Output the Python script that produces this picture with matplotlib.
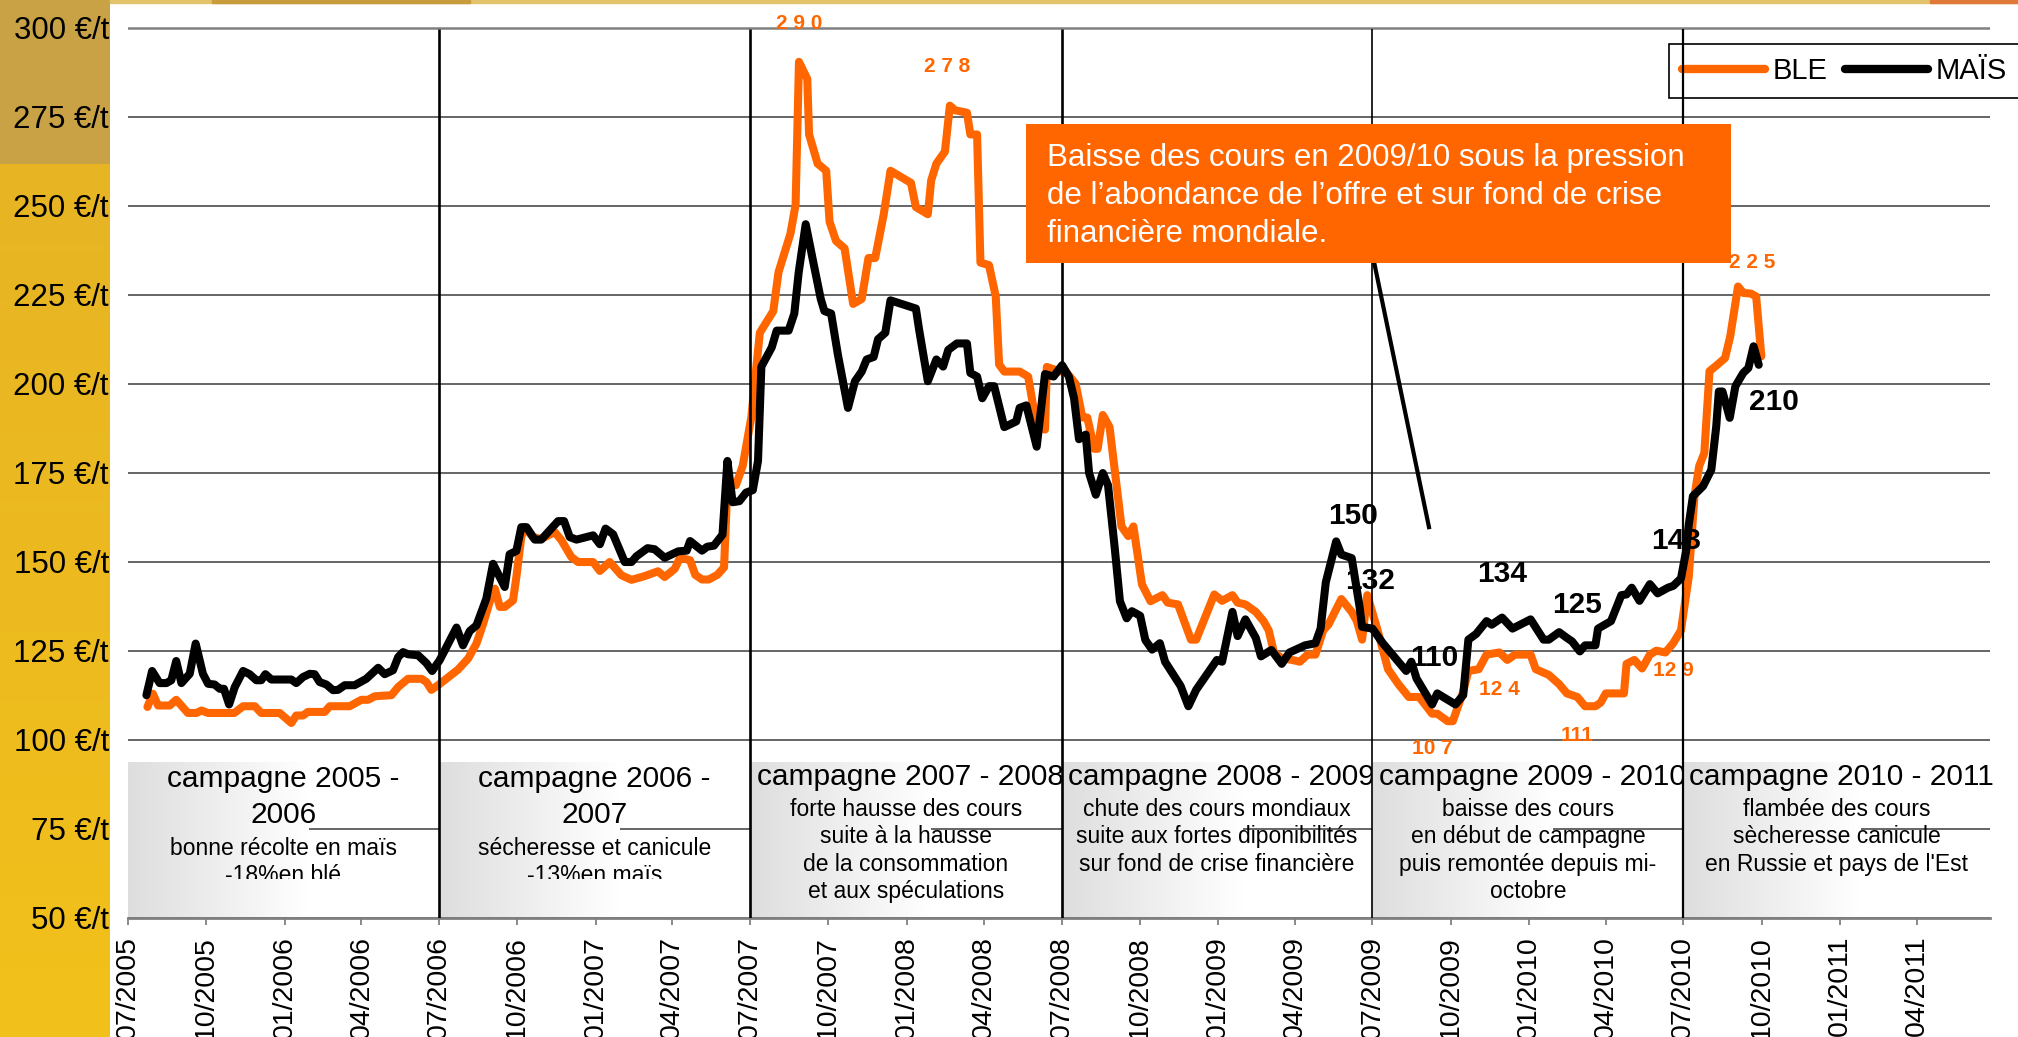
"""
Cours du blé et du maïs 2005-2010 (Matplotlib).
"""

import matplotlib.dates as mdates
import matplotlib.pyplot as plt
import numpy as np
import pandas as pd
from matplotlib.patches import Rectangle
from matplotlib.transforms import Bbox, TransformedBbox

plt.rcParams["font.family"] = ["Liberation Sans", "DejaVu Sans"]

ORANGE = "#FF6600"
W, H = 2018, 1037  # taille de l'image en pixels

# --- Données (x en mois depuis le 01/07/2005, y en €/t) ------------------

ble_mois = [
    0.75, 0.96, 1.16, 1.61, 1.86, 2.31, 2.64, 2.83, 3.09, 4.10, 4.44, 4.89,
    5.14, 5.85, 6.30, 6.49, 6.75, 6.94, 7.59, 7.78, 8.55, 9.00, 9.26, 9.52,
    10.16, 10.42, 10.80, 11.32, 11.51, 11.70, 11.96, 12.73, 13.12, 13.44,
    13.70, 13.95, 14.15, 14.34, 14.53, 14.85, 14.98, 15.17, 15.30, 15.62,
    15.94, 16.46, 16.72, 17.10, 17.36, 17.94, 18.20, 18.58, 19.03, 19.42,
    19.91, 20.44, 20.70, 21.09, 21.29, 21.68, 21.88, 22.14, 22.40, 22.73,
    22.99, 23.12, 23.45, 23.71, 24.04, 24.37, 24.89, 25.09, 25.55, 25.75,
    25.88, 26.20, 26.27, 26.60, 26.93, 27.06, 27.31, 27.64, 27.97, 28.30,
    28.56, 28.82, 29.15, 29.41, 30.20, 30.39, 30.85, 30.98, 31.18, 31.51,
    31.70, 31.90, 32.36, 32.49, 32.75, 32.88, 33.21, 33.47, 33.60, 33.80,
    34.39, 34.72, 35.05, 35.37, 35.44, 35.96, 36.09, 36.55, 36.81, 37.00,
    37.27, 37.40, 37.60, 37.86, 38.32, 38.58, 38.78, 39.11, 39.44, 39.90,
    40.10, 40.50, 41.00, 41.20, 41.90, 42.20, 42.60, 42.80, 43.10, 43.50,
    43.80, 44.00, 44.20, 44.50, 44.90, 45.20, 45.50, 45.80, 46.10, 46.30,
    46.80, 47.20, 47.40, 47.60, 47.80, 48.20, 48.60, 49.00, 49.40, 49.80,
    50.30, 50.50, 50.90, 51.10, 51.50, 51.70, 52.10, 52.40, 52.90, 53.20,
    53.50, 54.10, 54.30, 54.80, 55.20, 55.50, 55.90, 56.20, 56.60, 56.80,
    57.00, 57.70, 57.80, 58.10, 58.40, 58.70, 58.95, 59.30, 59.60, 59.90,
    60.20, 60.42, 60.60, 60.80, 61.00, 61.30, 61.60, 61.80, 62.10, 62.30,
    62.60, 62.80, 62.90, 63.00,
]
ble_prix = [
    109.2, 112.9, 109.6, 109.6, 111.2, 107.5, 107.5, 108.2, 107.5, 107.5, 109.4, 109.4,
    107.5, 107.5, 104.7, 106.8, 106.8, 107.8, 107.8, 109.4, 109.4, 111.2, 111.2, 112.2,
    112.5, 114.8, 117.1, 117.1, 116.2, 114.0, 115.3, 119.7, 122.8, 127.0,
    132.6, 138.7, 142.4, 137.3, 137.3, 139.1, 145.7, 156.9, 159.7, 156.9,
    156.4, 158.3, 156.0, 151.3, 149.9, 149.9, 147.4, 149.9, 146.2, 144.9,
    145.9, 147.3, 145.7, 148.0, 151.1, 150.4, 146.3, 145.0, 145.0, 146.3,
    148.4, 171.5, 171.5, 176.9, 190.5, 214.3, 220.4, 231.3, 242.1, 250.3,
    290.4, 285.6, 270.0, 261.8, 259.8, 245.5, 240.1, 238.0, 222.4, 223.8,
    235.3, 235.3, 247.6, 259.8, 256.4, 249.6, 247.6, 257.1, 261.8, 265.2,
    278.1, 276.8, 276.1, 270.0, 270.0, 234.0, 233.3, 224.5, 205.4, 203.4,
    203.4, 202.0, 187.8, 187.1, 204.7, 203.4, 204.1, 200.0, 190.5, 190.5,
    181.7, 181.7, 191.2, 187.8, 159.9, 157.2, 159.9, 143.6, 138.9, 140.6,
    138.5, 138.0, 128.1, 128.1, 140.8, 139.0, 140.6, 138.5, 138.0, 135.9,
    133.3, 130.7, 124.5, 122.9, 122.4, 121.9, 123.9, 123.9, 130.7, 132.3,
    139.5, 135.9, 133.3, 128.1, 140.6, 130.7, 119.8, 115.6, 112.0, 112.0,
    107.3, 107.3, 105.2, 105.2, 113.5, 119.3, 119.8, 123.9, 124.5, 122.4,
    123.9, 123.9, 119.8, 118.2, 115.6, 113.0, 112.0, 109.4, 109.4, 110.4,
    113.0, 113.0, 121.3, 122.4, 120.0, 123.9, 125.0, 124.5, 127.1, 130.7,
    145.8, 168.4, 176.8, 180.5, 203.5, 205.3, 207.2, 213.3, 227.3, 225.5,
    225.3, 224.5, 216.1, 207.7,
]

mais_mois = [
    0.71, 0.93, 1.22, 1.48, 1.67, 1.86, 2.06, 2.38, 2.61, 2.89, 3.09, 3.34,
    3.54, 3.70, 3.90, 4.12, 4.44, 4.69, 4.95, 5.14, 5.30, 5.53, 6.30, 6.49,
    6.75, 7.01, 7.20, 7.39, 7.65, 7.91, 8.10, 8.36, 8.74, 9.19, 9.65, 9.90,
    10.22, 10.42, 10.61, 10.80, 11.19, 11.51, 11.73, 12.02, 12.35, 12.67,
    12.92, 13.18, 13.44, 13.82, 14.08, 14.53, 14.72, 14.98, 15.17, 15.37,
    15.69, 15.94, 16.33, 16.59, 16.82, 17.04, 17.30, 17.94, 18.20, 18.42,
    18.71, 19.16, 19.42, 19.61, 20.04, 20.31, 20.70, 21.22, 21.55, 21.68,
    22.14, 22.34, 22.60, 22.93, 23.12, 23.32, 23.58, 23.84, 24.10, 24.30,
    24.43, 24.63, 24.83, 25.02, 25.48, 25.70, 25.87, 26.14, 26.40, 26.72,
    26.86, 27.12, 27.38, 27.77, 28.04, 28.30, 28.49, 28.76, 28.93, 29.21,
    29.41, 30.39, 30.52, 30.85, 31.18, 31.44, 31.64, 31.97, 32.36, 32.49,
    32.75, 32.95, 33.21, 33.41, 33.80, 34.26, 34.39, 34.65, 35.05, 35.37,
    35.70, 36.03, 36.29, 36.49, 36.68, 36.94, 37.07, 37.33, 37.60, 37.80,
    38.06, 38.26, 38.52, 38.72, 39.04, 39.24, 39.50, 39.80, 40.00, 40.60,
    40.90, 41.20, 42.00, 42.20, 42.60, 42.80, 43.10, 43.50, 43.70, 44.10,
    44.50, 44.80, 45.40, 45.80, 46.00, 46.20, 46.60, 46.80, 47.20, 47.50,
    47.60, 48.00, 48.40, 49.30, 49.50, 49.70, 50.30, 50.50, 51.20, 51.50,
    51.70, 52.00, 52.40, 52.60, 53.00, 53.40, 54.10, 54.60, 54.80, 55.20,
    55.50, 55.70, 56.00, 56.20, 56.60, 56.70, 57.20, 57.60, 57.80, 58.00,
    58.30, 58.70, 59.00, 59.40, 59.60, 59.90, 60.10, 60.20, 60.36, 60.75,
    61.07, 61.26, 61.36, 61.50, 61.78, 62.00, 62.30, 62.50, 62.70, 62.90,
]
mais_prix = [
    112.5, 119.3, 115.9, 115.9, 116.7, 122.1, 115.9, 118.5, 127.0, 118.5, 115.7, 115.5,
    114.3, 114.3, 109.9, 114.8, 119.3, 118.4, 116.7, 116.7, 118.4, 116.9, 116.9, 115.9,
    117.6, 118.5, 118.4, 116.2, 115.5, 113.9, 114.0, 115.3, 115.3, 117.1, 120.2, 118.4,
    119.5, 123.2, 124.6, 124.0, 123.7, 121.5, 119.3, 122.3, 127.0, 131.5,
    126.5, 130.5, 132.1, 139.6, 149.4, 142.9, 152.1, 153.0, 159.7, 159.7,
    156.2, 156.2, 159.3, 161.4, 161.4, 156.9, 156.2, 157.4, 154.9, 159.3,
    157.7, 149.9, 149.9, 151.5, 153.8, 153.5, 151.1, 152.9, 153.1, 155.8,
    153.1, 154.2, 154.5, 157.6, 178.3, 166.7, 167.0, 169.4, 170.1, 178.3,
    204.8, 207.5, 210.2, 214.9, 214.9, 219.7, 231.3, 244.8, 235.3, 223.8,
    220.4, 219.7, 208.2, 193.2, 200.7, 203.4, 206.8, 207.5, 212.5, 214.3,
    223.4, 221.1, 214.9, 200.7, 206.8, 204.8, 209.5, 211.3, 211.3, 203.0,
    202.0, 195.9, 199.3, 199.3, 187.8, 189.4, 193.2, 193.9, 182.3, 202.7,
    202.0, 205.2, 202.0, 195.9, 184.4, 185.7, 174.9, 168.8, 174.9, 171.5,
    153.8, 138.9, 134.1, 136.1, 134.8, 128.0, 125.3, 127.1, 121.9, 115.1,
    109.4, 114.0, 122.4, 121.9, 135.9, 129.1, 133.8, 128.6, 123.4, 125.2,
    121.3, 124.5, 126.5, 127.1, 131.2, 144.2, 155.7, 152.0, 151.0, 137.5,
    131.7, 131.2, 127.1, 119.3, 121.9, 117.2, 109.9, 113.0, 109.9, 112.5,
    128.1, 129.7, 133.3, 132.3, 134.3, 131.2, 133.8, 128.1, 128.1, 130.2,
    128.6, 127.6, 124.8, 126.5, 126.5, 131.2, 133.3, 140.6, 140.8, 142.7,
    139.0, 143.7, 141.1, 142.7, 143.2, 145.3, 153.1, 160.4, 168.4, 171.2,
    175.8, 188.0, 197.8, 197.8, 190.4, 199.3, 203.0, 204.4, 210.5, 205.3,
]

# étiquettes de valeurs posées sur les courbes
etiq_ble_txt = ["2 9 0", "2 7 8", "2 2 5", "10 7", "12 4", "111", "12 9"]
etiq_ble_mois = [25.9, 31.6, 62.66, 50.3, 52.9, 55.9, 59.6]
etiq_ble_y = [301.3, 289.2, 234.1, 97.4, 114.1, 101.3, 119.3]

etiq_mais_txt = ["150", "132", "110", "134", "125", "143", "210"]
etiq_mais_mois = [47.25, 47.9, 50.4, 53.0, 55.9, 59.7, 63.5]
etiq_mais_y = [162.9, 144.7, 122.9, 146.5, 137.7, 155.7, 194.8]

campagne_debut = ["2005-07-01", "2006-07-01", "2007-07-01",
                  "2008-07-01", "2009-07-01", "2010-07-01"]
campagne_titre = [
    "campagne 2005 -\n2006",
    "campagne 2006 -\n2007",
    "campagne 2007 - 2008",
    "campagne 2008 - 2009",
    "campagne 2009 - 2010",
    "campagne 2010 - 2011",
]
campagne_texte = [
    "bonne récolte en maïs\n-18%en blé",
    "sécheresse et canicule\n-13%en maïs",
    "forte hausse des cours\nsuite à la hausse\nde la consommation\net aux spéculations",
    "chute des cours mondiaux\nsuite aux fortes diponibilités\nsur fond de crise financière",
    "baisse des cours\nen début de campagne\npuis remontée depuis mi-\noctobre",
    "flambée des cours\nsècheresse canicule\nen Russie et pays de l'Est",
]

commentaire = [
    "Baisse des cours en 2009/10 sous la pression",
    "de l\u2019abondance de l\u2019offre et sur fond de crise",
    "financière mondiale.",
]
fleche_mois = [48.07, 50.18]
fleche_y = [233.9, 159.7]

DEBUT = pd.Timestamp("2005-07-01")
FIN = pd.Timestamp("2011-06-26")


def mois_en_date(m):
    return DEBUT + pd.to_timedelta(np.asarray(m) * 30.4375, unit="D")


# --- Figure ---------------------------------------------------------------

fig = plt.figure(figsize=(W / 100, H / 100), dpi=100, facecolor="white")

# bande dorée à gauche
bande = fig.add_axes([0, 0, 110 / W, 1], zorder=-1)
haut = np.array([201, 162, 69]) / 255
bas1 = np.array([231, 180, 36]) / 255
bas2 = np.array([242, 193, 26]) / 255
t = np.linspace(0, 1, H - 164)[:, None]
grad = np.vstack([np.tile(haut, (164, 1)), bas1 * (1 - t) + bas2 * t])[:, None, :]
bande.imshow(grad, aspect="auto", extent=[0, 1, 0, H], origin="upper")
bande.set_xlim(0, 1)
bande.set_ylim(0, H)
bande.axis("off")

# liseré en haut
fig.add_artist(Rectangle((110 / W, 1 - 3 / H), 1 - 110 / W, 3 / H,
                         transform=fig.transFigure, color="#E2C26A", zorder=1))
fig.add_artist(Rectangle((212 / W, 1 - 3 / H), 258 / W, 3 / H,
                         transform=fig.transFigure, color="#C89B3C", zorder=1))
fig.add_artist(Rectangle((1930 / W, 1 - 3 / H), 88 / W, 3 / H,
                         transform=fig.transFigure, color="#E07838", zorder=1))

ax = fig.add_axes([128 / W, 1 - 917.7 / H, 1862 / W, (917.7 - 24.1) / H])
ax.set_facecolor("none")

ax.plot(mois_en_date(ble_mois), ble_prix, color=ORANGE, lw=5.8,
        solid_joinstyle="round", solid_capstyle="round", label="BLE", zorder=3)
ax.plot(mois_en_date(mais_mois), mais_prix, color="black", lw=5.8,
        solid_joinstyle="round", solid_capstyle="round", label="MAÏS", zorder=3.1)

ax.set_xlim(DEBUT, FIN)
ax.set_ylim(50, 301)

# axes et grille
ax.set_yticks(np.arange(50, 301, 25))
ax.set_yticklabels([f"{v} €/t" for v in range(50, 301, 25)])
ax.yaxis.grid(True, color="#3C3C3C", lw=1.1)
ax.get_ygridlines()[-1].set_color("#808080")
ax.get_ygridlines()[-1].set_linewidth(1.8)
ax.set_axisbelow(True)
for s in ("top", "left", "right"):
    ax.spines[s].set_visible(False)
ax.spines["bottom"].set_color("#808080")
ax.spines["bottom"].set_linewidth(2)

ax.xaxis.set_major_locator(mdates.MonthLocator(bymonth=[1, 4, 7, 10]))
ax.xaxis.set_major_formatter(mdates.DateFormatter("%m/%Y"))
ax.tick_params(axis="x", direction="out", length=5, width=1.3, color="#808080",
               labelsize=20.5, labelrotation=90, pad=8)
ax.tick_params(axis="y", length=0, labelsize=22.5, pad=13.7)

# cadres des campagnes
bornes = [pd.Timestamp(d) for d in campagne_debut] + [FIN]
degrade = np.linspace(0.87, 1.0, 64)[None, :, None] * np.ones((1, 1, 3))
for i, (titre, texte) in enumerate(zip(campagne_titre, campagne_texte)):
    x0 = mdates.date2num(bornes[i])
    x1 = mdates.date2num(bornes[i + 1])
    z = 1 + 0.2 * i
    ax.imshow(degrade, extent=[x0, x0 + 0.58 * (x1 - x0), 50.3, 93.8],
              aspect="auto", interpolation="bilinear", zorder=z)
    lignes = titre.split("\n")
    if len(lignes) == 2:
        y_titre, y_texte = [86.8, 76.6], 67.6
        xc = (x0 + x1) / 2
    else:
        y_titre, y_texte = [87.3], 78.6
        xc = (x0 + x1) / 2 + 5
    for y, l in zip(y_titre, lignes):
        ax.text(xc, y, l, ha="center", va="baseline", fontsize=21.5, zorder=z + 0.1)
    for k, l in enumerate(texte.split("\n")):
        txt = ax.text((x0 + x1) / 2, y_texte - 7.7 * k, l, ha="center",
                      va="baseline", fontsize=16.5, zorder=z + 0.1)
        if len(lignes) == 2:
            txt.set_clip_box(TransformedBbox(Bbox([[x0, 60.9], [x1, 94]]), ax.transData))
            txt.set_clip_on(True)

# lignes de début de campagne
ax.vlines(pd.to_datetime(campagne_debut[1:]), 50, 299.5, colors="black",
          linewidth=[1.9, 1.9, 1.9, 1.2, 1.6], zorder=10)

# étiquettes
for txt, m, y in zip(etiq_ble_txt, etiq_ble_mois, etiq_ble_y):
    ax.text(mois_en_date(m), y, txt, ha="center", va="center", fontsize=15,
            fontweight="bold", color=ORANGE, zorder=6)
for txt, m, y in zip(etiq_mais_txt, etiq_mais_mois, etiq_mais_y):
    ax.text(mois_en_date(m), y, txt, ha="center", va="center", fontsize=21.5,
            fontweight="bold", color="black", zorder=6)

# commentaire
ax.plot(mois_en_date(fleche_mois), fleche_y, color="black", lw=3, zorder=10)
fig.add_artist(Rectangle((1026 / W, 1 - 263 / H), 705 / W, 139 / H,
                         transform=fig.transFigure, facecolor=ORANGE,
                         edgecolor="none", zorder=5))
for k, l in enumerate(commentaire):
    fig.text(1047 / W, 1 - (166 + 38 * k) / H, l, color="white", fontsize=22.5,
             va="baseline", zorder=6)

leg = ax.legend(loc="upper left", bbox_to_anchor=(1669 / W, 1 - 44 / H),
                bbox_transform=fig.transFigure, ncol=2, fontsize=21,
                fancybox=False, edgecolor="black", framealpha=1, borderpad=0.45,
                handlelength=2.85, handletextpad=0.25, columnspacing=0.6,
                borderaxespad=0)
leg.get_frame().set_linewidth(1.2)
for h in leg.get_lines():
    h.set_linewidth(6)

fig.savefig("out.png", dpi=100, facecolor="white")
